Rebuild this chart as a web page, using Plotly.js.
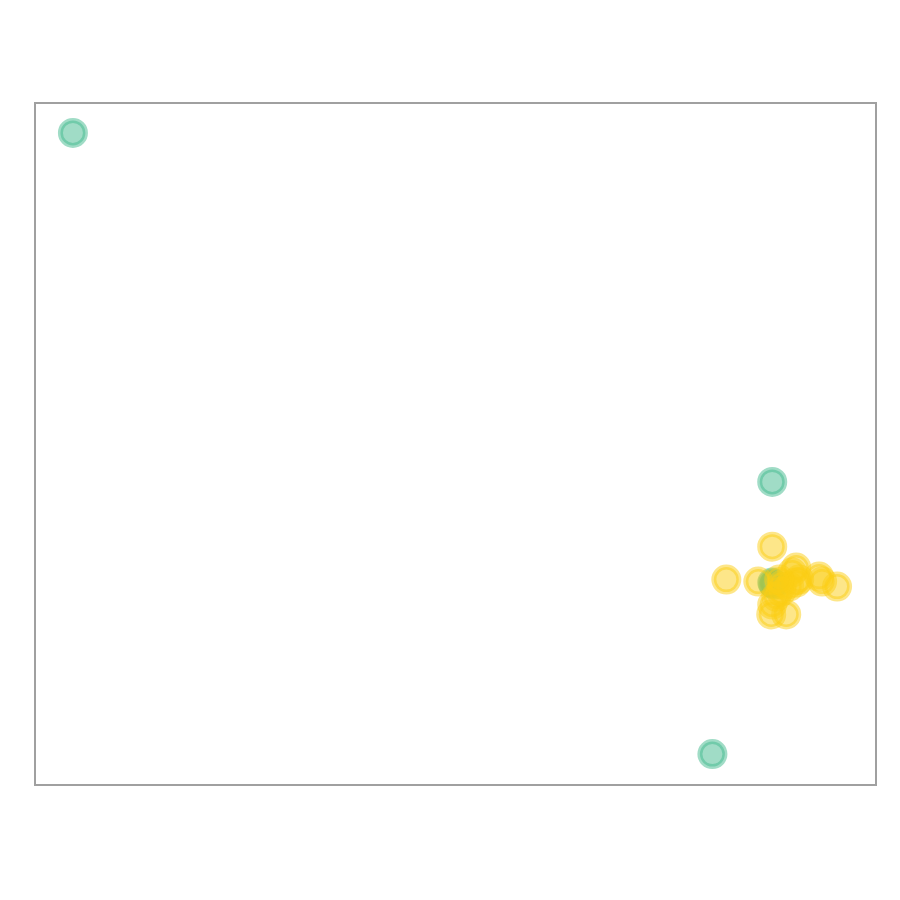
<!DOCTYPE html>
<html>
<head>
<meta charset="utf-8">
<script src="https://cdn.plot.ly/plotly-3.0.1.min.js"></script>
<style>html,body{margin:0;padding:0;background:#fff;}#chart{width:900px;height:900px;}</style>
</head>
<body>
<div id="chart"></div>
<script>
var tealX = [4.40, 87.75, 80.62, 87.75, 87.99, 87.85];
var tealY = [95.75, 44.43, 4.40, 29.62, 29.33, 29.50];
var yellowX = [87.75, 82.28, 86.09, 90.61, 90.13, 93.34, 93.70, 95.48, 87.75, 87.63, 89.42, 88.94, 89.77, 90.61, 90.96, 88.82, 88.23, 88.58];
var yellowY = [34.90, 30.06, 29.77, 31.82, 31.09, 30.50, 29.77, 29.03, 26.39, 24.93, 24.93, 29.33, 29.03, 29.62, 30.06, 28.30, 27.57, 30.06];

var tealFill = 'rgba(65,185,142,0.5)';
var yellowFill = 'rgba(252,205,20,0.5)';

var traces = [
  {x: tealX, y: tealY, type: 'scatter', mode: 'markers', name: 'A',
   marker: {size: 25, color: tealFill, line: {color: tealFill, width: 5}}},
  {x: yellowX, y: yellowY, type: 'scatter', mode: 'markers', name: 'B',
   marker: {size: 25, color: yellowFill, line: {color: yellowFill, width: 5}}}
];

var axisCommon = {showgrid: false, zeroline: false, showticklabels: false, ticks: '',
  showline: true, mirror: true, linecolor: '#a0a0a0', linewidth: 2};

var layout = {
  width: 900, height: 900,
  margin: {l: 36, r: 25, t: 104, b: 116},
  showlegend: false,
  paper_bgcolor: '#fff', plot_bgcolor: '#fff',
  xaxis: Object.assign({range: [0, 100]}, axisCommon),
  yaxis: Object.assign({range: [0, 100]}, axisCommon)
};

Plotly.newPlot('chart', traces, layout, {displayModeBar: false, staticPlot: true});
</script>
</body>
</html>
